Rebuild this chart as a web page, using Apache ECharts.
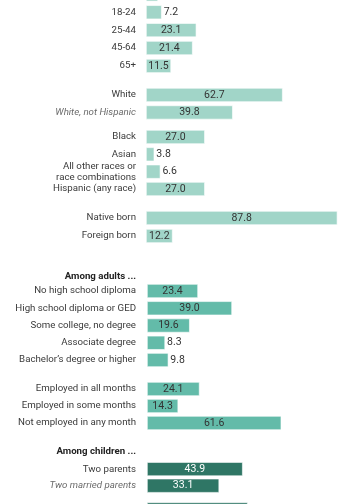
<!DOCTYPE html>
<html><head><meta charset="utf-8">
<script src="https://cdn.jsdelivr.net/npm/echarts@6/dist/echarts.min.js"></script>
<style>html,body{margin:0;padding:0;background:#fff;overflow:hidden}#c{width:360px;height:504px}</style>
</head><body><div id="c"></div>
<script>
// ---- data ----
const ageLabels = ['Under 18', '18-24', '25-44', '45-64', '65+'];
const ageValues = [5.5, 7.2, 23.1, 21.4, 11.5];
const raceLabels1 = ['White', 'White, not Hispanic'];
const raceValues1 = [62.7, 39.8];
const raceLabels2 = ['Black', 'Asian', 'All other races or\nrace combinations', 'Hispanic (any race)'];
const raceValues2 = [27.0, 3.8, 6.6, 27.0];
const nativityLabels = ['Native born', 'Foreign born'];
const nativityValues = [87.8, 12.2];
const eduLabels = ['No high school diploma', 'High school diploma or GED', 'Some college, no degree', 'Associate degree', 'Bachelor\u2019s degree or higher'];
const eduValues = [23.4, 39.0, 19.6, 8.3, 9.8];
const empLabels = ['Employed in all months', 'Employed in some months', 'Not employed in any month'];
const empValues = [24.1, 14.3, 61.6];
const childLabels1 = ['Two parents', 'Two married parents'];
const childValues1 = [43.9, 33.1];
const childLabels2 = ['One parent'];
const childValues2 = [46.2];
const italicLabels = ['White, not Hispanic', 'Two married parents'];
const headerLabels = ['Among adults ...', 'Among children ...'];

// ---- layout / style ----
const FONT = 'Roboto';
const LABEL_SIZE = 9.7;
const LIGHT = '#a1d5c8', MID = '#63bba9', DARK = '#2f7665';
const groups = [
  { labels: ageLabels, values: ageValues, color: LIGHT, txt: '#333', top: -14.6, step: 17.9, left: 146 },
  { labels: raceLabels1, values: raceValues1, color: LIGHT, txt: '#333', top: 86.2, step: 17.5, left: 146 },
  { labels: raceLabels2, values: raceValues2, color: LIGHT, txt: '#333', top: 128.3, step: 17.35, left: 146 },
  { labels: nativityLabels, values: nativityValues, color: LIGHT, txt: '#333', top: 209, step: 18, left: 146 },
  { labels: eduLabels, values: eduValues, color: MID, txt: '#333', top: 282.4, step: 17.25, left: 147 },
  { labels: empLabels, values: empValues, color: MID, txt: '#333', top: 380.5, step: 17, left: 147 },
  { labels: childLabels1, values: childValues1, color: DARK, txt: '#fff', top: 460.8, step: 16.6, left: 147 },
  { labels: childLabels2, values: childValues2, color: DARK, txt: '#fff', top: 501, step: 17, left: 147 }
];
const headerY = [277, 452];
const PX_PER_UNIT = 2.18;

const grid = [], xAxis = [], yAxis = [], series = [];
groups.forEach((g, i) => {
  grid.push({ left: g.left, top: g.top, width: 100 * PX_PER_UNIT, height: g.labels.length * g.step,
              containLabel: false, outerBoundsMode: 'none' });
  xAxis.push({ gridIndex: i, type: 'value', min: 0, max: 100, show: false });
  yAxis.push({
    gridIndex: i, type: 'category', inverse: true,
    data: g.labels.map(l => italicLabels.includes(l)
      ? { value: l, textStyle: { fontStyle: 'italic', color: '#6b6b6b' } }
      : l),
    axisLine: { show: false }, axisTick: { show: false }, splitLine: { show: false },
    axisLabel: { margin: g.left - 136, fontSize: LABEL_SIZE, color: '#3a3a3a', fontFamily: FONT, lineHeight: 11 }
  });
  series.push({
    type: 'bar', xAxisIndex: i, yAxisIndex: i, barWidth: 14, silent: true,
    itemStyle: { color: g.color, borderColor: '#fff', borderWidth: 0.6 },
    data: g.values.map(v => ({
      value: v,
      label: v >= 11
        ? { position: 'inside', color: g.txt }
        : { position: 'right', color: '#333', distance: 2 }
    })),
    label: { show: true, fontSize: 10.5, fontFamily: FONT, formatter: p => p.value.toFixed(1) }
  });
});

const graphic = headerLabels.map((h, k) => ({
  type: 'text', x: 136, y: headerY[k],
  style: { text: h, align: 'right', verticalAlign: 'middle', fontSize: LABEL_SIZE, fontWeight: 'bold', fontFamily: FONT, fill: '#222' }
}));

const chart = echarts.init(document.getElementById('c'), null, { renderer: 'canvas' });
chart.setOption({ animation: false, backgroundColor: '#fff', grid, xAxis, yAxis, series, graphic });
</script>
</body></html>
